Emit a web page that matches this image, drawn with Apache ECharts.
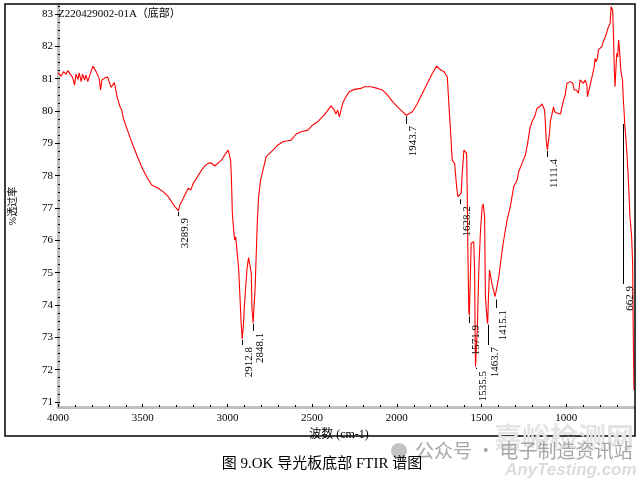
<!DOCTYPE html>
<html><head><meta charset="utf-8">
<script src="https://cdn.jsdelivr.net/npm/echarts@6/dist/echarts.min.js"></script>
<style>html,body{margin:0;padding:0;background:#fff}#c{width:644px;height:480px}</style>
</head><body><div id="c"></div>
<script>
const wavenumbers = [4000,3992,3981,3967,3953,3941,3928,3914,3902,3894,3882,3875,3863,3855,3843,3835,3824,3814,3804,3794,3784,3775,3765,3757,3749,3741,3731,3718,3706,3698,3687,3678,3667,3659,3651,3643,3634,3624,3614,3594,3565,3535,3506,3476,3447,3408,3378,3349,3329,3310,3300,3289.9,3281,3271,3251,3231,3216,3202,3188,3153,3134,3114,3098,3075,3035,3016,2996,2992,2981,2976,2971,2963,2957,2951,2941,2934,2925,2920,2912.8,2906,2900,2894,2884,2875,2865,2859,2855,2848.1,2843,2837,2831,2824,2816,2804,2790,2771,2751,2731,2702,2672,2643,2624,2594,2565,2525,2496,2467,2428,2388,2369,2359,2349,2339,2320,2300,2281,2251,2212,2192,2153,2114,2084,2055,2025,1996,1967,1943.7,1908,1878,1849,1820,1790,1765,1741,1722,1702,1692,1682,1673,1659,1647,1640,1628.2,1620,1614,1604,1594,1588,1584,1581,1575,1571.9,1561,1546,1541,1537,1535.5,1525,1516,1506,1496,1490,1482,1477,1467,1463.7,1459,1453,1447,1437,1428,1420,1415.1,1398,1388,1378,1369,1359,1349,1330,1320,1310,1290,1281,1261,1241,1228,1216,1212,1202,1193,1183,1173,1163,1153,1143,1137,1128,1124,1118,1111.4,1104,1098,1094,1085,1075,1069,1059,1051,1041,1034,1025,1016,1006,996,990,977,967,961,953,941,934,928,918,908,898,888,878,875,869,859,849,843,835,830,824,816,810,800,790,785,777,765,757,751,741,735,730,726,722,716,712,706,702,696,691,687,684,678,668,662.9,659,655,643,633,624,614,608,604,600];
const transmittance = [81.18,81.17,81.08,81.22,81.14,81.25,81.14,81.04,80.80,81.14,80.98,81.18,80.91,81.14,80.96,81.11,80.91,81.08,81.11,81.39,81.37,81.22,81.25,81.01,80.65,80.96,81.01,81.04,81.04,81.01,80.73,80.80,80.88,80.86,80.44,80.42,80.13,80.03,79.77,79.47,79.04,78.64,78.27,77.96,77.71,77.61,77.50,77.35,77.19,77.04,76.99,76.92,77.09,77.19,77.40,77.61,77.56,77.76,77.87,78.17,78.30,78.38,78.40,78.30,78.48,78.64,78.79,78.81,78.48,77.87,76.84,76.32,76.01,76.11,76.06,75.14,74.16,73.54,72.95,73.33,73.95,74.41,75.14,75.47,75.49,74.98,73.90,73.45,73.95,74.46,75.39,76.53,77.35,77.87,78.17,78.59,78.69,78.79,78.95,79.05,79.08,79.10,79.29,79.36,79.41,79.57,79.67,79.88,80.16,80.03,79.91,80.03,79.82,80.24,80.44,80.60,80.67,80.70,80.75,80.75,80.70,80.65,80.49,80.29,80.13,79.98,79.87,79.98,80.24,80.55,80.86,81.17,81.39,81.27,81.22,81.06,80.13,79.31,78.48,78.38,77.66,77.35,77.30,77.46,78.07,78.79,78.85,78.69,77.35,75.80,73.79,73.68,75.91,75.96,75.08,72.61,72.09,73.23,75.08,76.32,77.04,77.12,76.73,74.26,73.53,73.42,74.26,75.08,75.03,74.62,74.62,74.26,74.20,74.87,75.29,75.70,76.01,76.32,76.63,77.04,77.35,77.66,77.87,78.12,78.38,78.64,79.00,79.41,79.51,79.67,79.70,79.88,80.08,80.13,80.15,80.22,80.15,80.03,79.72,79.10,78.80,79.10,79.36,79.67,79.88,80.13,79.98,79.98,79.93,79.95,79.91,80.13,80.34,80.49,80.86,80.91,80.91,80.91,80.86,80.65,80.65,80.60,80.55,80.96,81.01,80.86,80.96,80.80,80.44,80.49,80.80,80.86,81.17,81.37,81.63,81.52,81.63,81.89,81.94,81.99,82.09,82.20,82.35,82.30,82.61,82.71,83.23,83.18,83.12,82.51,81.27,80.75,81.37,81.78,81.68,82.20,81.99,81.78,81.27,80.96,80.34,80.03,79.62,78.80,77.87,76.73,76.11,75.29,72.92,71.37];

const peakWavenumbers = [3289.9,2912.8,2848.1,1943.7,1628.2,1571.9,1535.5,1463.7,1415.1,1111.4,662.9];
const peakCurve       = [76.92,72.95,73.45,79.87,77.30,73.68,72.09,73.42,74.20,78.80,79.63];
const peakLeaderEnd   = [76.75,72.76,73.20,79.60,77.12,73.44,72.02,72.76,73.91,78.58,74.65];
const peakLabels      = ["3289.9","2912.8","2848.1","1943.7","1628.2","1571.9","1535.5","1463.7","1415.1","1111.4","662.9"];

const xTickLabels = [1000,1500,2000,2500,3000,3500,4000];
const yTickLabels = [71,72,73,74,75,76,77,78,79,80,81,82,83];

const sampleId = "Z220429002-01A（底部）";
const xName = "波数 (cm-1)";
const yName = "%透过率";
const caption = "图 9.OK 导光板底部 FTIR 谱图";

const lineData = wavenumbers.map((w, i) => [w, transmittance[i]]);
const peakData = peakWavenumbers.map((w, i) => [w, peakCurve[i], peakLeaderEnd[i]]);
const quarterTicks = [];
for (let k = 0; k <= 49; k++) quarterTicks.push(71 + k * 0.25);
const hundredTicks = [];
for (let v = 700; v <= 3900; v += 100) hundredTicks.push(v);

const SERIF = '"Liberation Serif","Noto Sans CJK SC",serif';
const CJK = '"Liberation Serif","Noto Sans CJK SC",sans-serif';

function renderPeak(params, api) {
  const w = api.value(0);
  const p1 = api.coord([w, api.value(1)]);
  const p2 = api.coord([w, api.value(2)]);
  const x = Math.round(p1[0]) + 0.5;
  return {
    type: 'group',
    children: [
      { type: 'line', shape: { x1: x, y1: p1[1] + 1, x2: x, y2: p2[1] },
        style: { stroke: '#000', lineWidth: 1 } },
      { type: 'text', x: x + 1.5, y: p2[1] + 2, rotation: Math.PI / 2,
        style: { text: peakLabels[params.dataIndex], align: 'right', textAlign: 'right',
                 verticalAlign: 'top', textVerticalAlign: 'top',
                 fill: '#000', font: '11px "Liberation Serif"' } }
    ]
  };
}

const chart = echarts.init(document.getElementById('c'), null, { renderer: 'canvas' });
chart.setOption({
  animation: false,
  backgroundColor: '#fff',
  grid: { left: 56, right: 10, top: 5, bottom: 73 },
  xAxis: [{
    type: 'value', min: 600, max: 4000, inverse: true, position: 'bottom',
    axisLine: { show: true, onZero: false, lineStyle: { color: '#c0c0c0', width: 3 } },
    axisTick: { show: true, inside: true, length: 3, customValues: xTickLabels, lineStyle: { color: '#000', width: 1 } },
    axisLabel: { customValues: xTickLabels, margin: 6, color: '#000', fontFamily: SERIF, fontSize: 11,
                 formatter: v => String(v) },
    splitLine: { show: false },
    name: xName, nameLocation: 'middle', nameGap: 17,
    nameTextStyle: { color: '#000', fontFamily: CJK, fontSize: 12, padding: [0, 14, 0, 0] }
  }, {
    type: 'value', min: 600, max: 4000, inverse: true, position: 'bottom',
    axisLine: { show: false }, axisLabel: { show: false }, splitLine: { show: false },
    axisTick: { show: true, inside: true, length: 2, customValues: hundredTicks, lineStyle: { color: '#000', width: 1 } }
  }],
  yAxis: [{
    type: 'value', min: 70.845, max: 83.28, position: 'left',
    axisLine: { show: true, onZero: false, lineStyle: { color: '#c0c0c0', width: 3 } },
    axisTick: { show: true, inside: false, length: 3, customValues: yTickLabels, lineStyle: { color: '#000', width: 1 } },
    axisLabel: { customValues: yTickLabels, margin: 5, color: '#000', fontFamily: SERIF, fontSize: 11,
                 formatter: v => String(v) },
    splitLine: { show: false },
    name: yName, nameLocation: 'middle', nameGap: 40, nameRotate: 90,
    nameTextStyle: { color: '#000', fontFamily: CJK, fontSize: 10 }
  }, {
    type: 'value', min: 70.845, max: 83.28, position: 'left',
    axisLine: { show: false }, axisLabel: { show: false }, splitLine: { show: false },
    axisTick: { show: true, inside: true, length: 2, customValues: quarterTicks, lineStyle: { color: '#000', width: 1 } }
  }],
  series: [{
    type: 'line', data: lineData, xAxisIndex: 0, yAxisIndex: 0,
    symbol: 'none', showSymbol: false, z: 3,
    lineStyle: { color: '#ff0000', width: 1.1 }
  }, {
    type: 'custom', data: peakData, xAxisIndex: 0, yAxisIndex: 0,
    encode: { x: 0, y: [1, 2] }, renderItem: renderPeak, z: 4, clip: false
  }],
  graphic: [
    { type: 'rect', silent: true, z: 10, shape: { x: 5, y: 4, width: 630, height: 432 },
      style: { fill: 'none', stroke: '#000', lineWidth: 1.5 } },
    { type: 'text', silent: true, z: 10, x: 58, y: 14,
      style: { text: sampleId, fill: '#000', font: '11px "Liberation Serif","Noto Sans CJK SC"', textVerticalAlign: 'middle', verticalAlign: 'middle' } },
    { type: 'text', silent: true, z: 11, x: 494, y: 437,
      style: { text: '嘉峪检测网', fill: '#e4e4e4', font: 'bold 28px "Noto Sans CJK SC"', textVerticalAlign: 'middle', verticalAlign: 'middle' } },
    { type: 'circle', silent: true, z: 11, shape: { cx: 399, cy: 451, r: 8 }, style: { fill: '#c4c4c4' } },
    { type: 'text', silent: true, z: 11, x: 415, y: 451,
      style: { text: '公众号 · 电子制造资讯站', fill: '#a6a6a6', font: '19px "Noto Sans CJK SC"', textVerticalAlign: 'middle', verticalAlign: 'middle' } },
    { type: 'text', silent: true, z: 11, x: 505, y: 470,
      style: { text: 'AnyTesting.com', fill: '#dcdcdc', font: 'italic bold 17px "Liberation Sans"', textVerticalAlign: 'middle', verticalAlign: 'middle' } },
    { type: 'text', silent: true, z: 12, x: 322, y: 464,
      style: { text: caption, fill: '#000', font: '15px "Liberation Serif","Noto Sans CJK SC"', textAlign: 'center', align: 'center', textVerticalAlign: 'middle', verticalAlign: 'middle' } }
  ]
});
</script>
</body></html>
